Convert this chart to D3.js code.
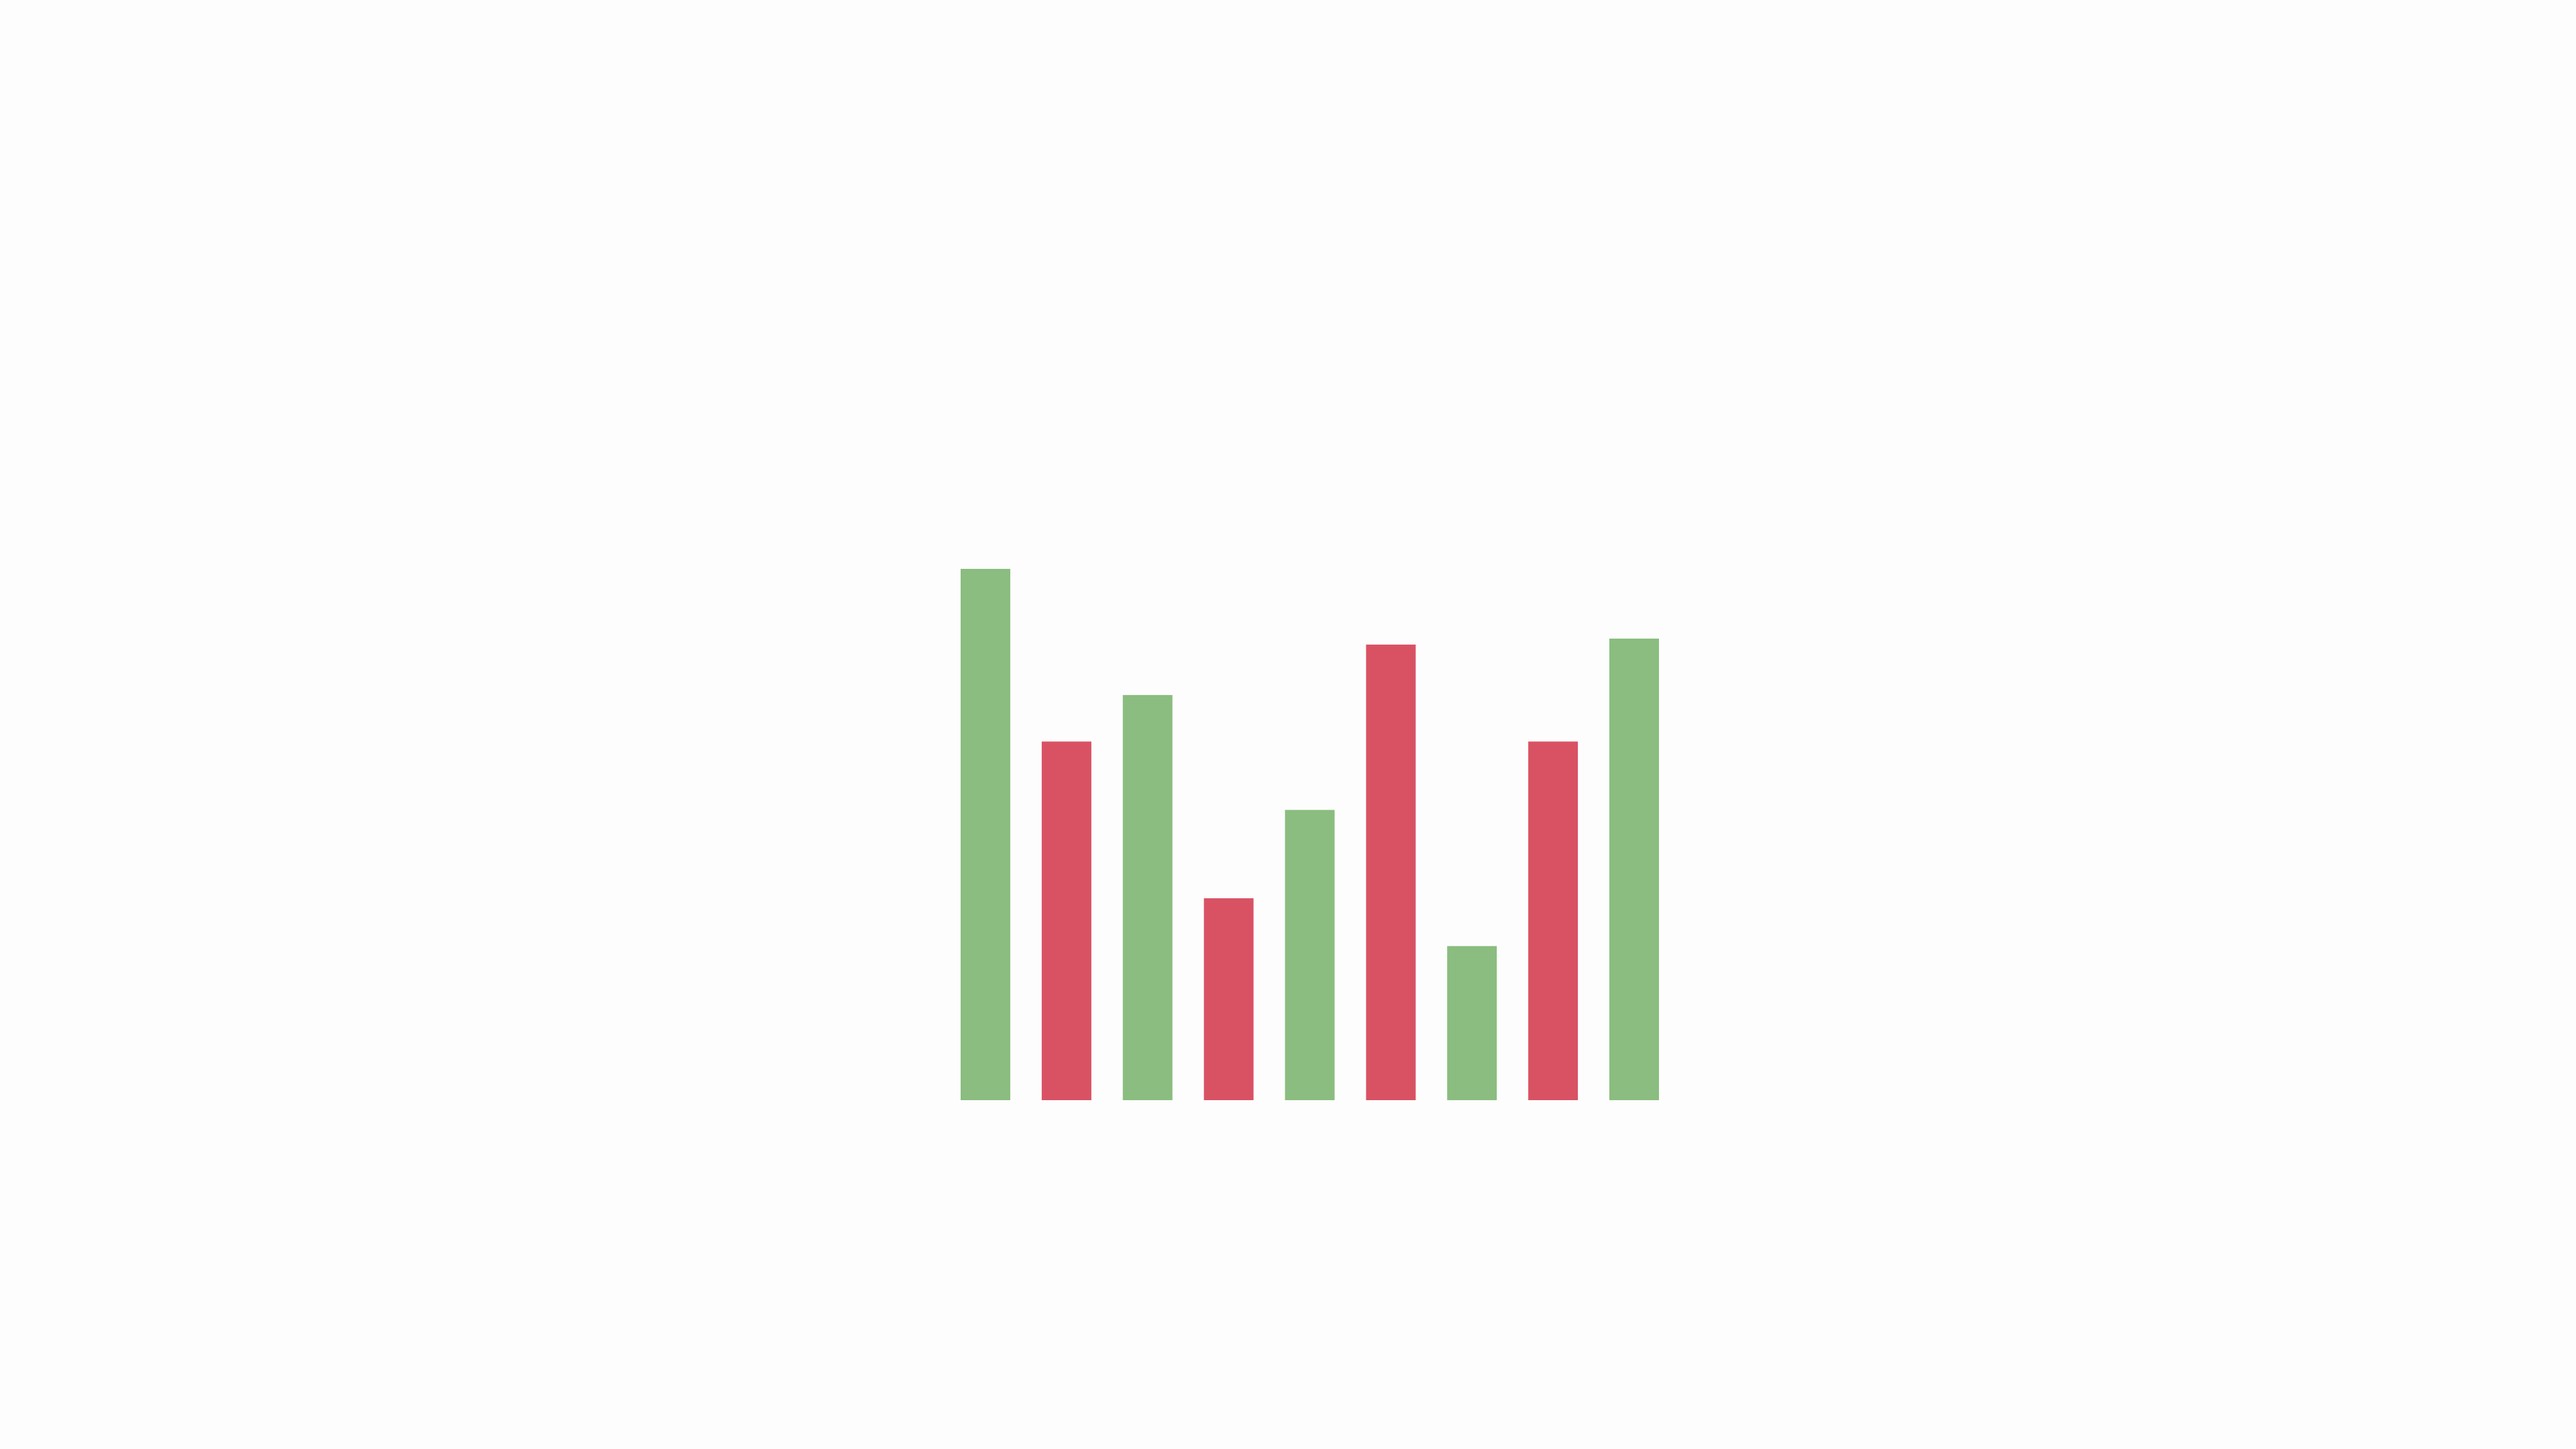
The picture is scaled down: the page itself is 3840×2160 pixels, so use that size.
<!DOCTYPE html>
<html>
<head>
<meta charset="utf-8">
<script src="https://cdn.jsdelivr.net/npm/d3@7"></script>
<style>
  html, body { margin: 0; padding: 0; background: #fdfdfd; }
  svg { display: block; }
</style>
</head>
<body>
<svg id="bars" width="3840" height="2160"></svg>
<script>
// bar values, left to right
const values = [80, 54, 61, 30.4, 43.7, 68.6, 23.2, 54, 69.5];
// which bars are drawn green (up) and which red (down)
const kinds = ['up', 'down', 'up', 'down', 'up', 'down', 'up', 'down', 'up'];

const colors = { up: '#8abd7f', down: '#d95264' };

const svg = d3.select('#bars');

const xScale = d3.scaleBand()
  .domain(d3.range(values.length))
  .range([1432, 2473])
  .paddingInner(0.388)
  .paddingOuter(0);

const yScale = d3.scaleLinear()
  .domain([0, 80])
  .range([1640, 848]);

svg.append('rect')
  .attr('width', 3840)
  .attr('height', 2160)
  .attr('fill', '#fdfdfd');

svg.selectAll('rect.bar')
  .data(values)
  .enter()
    .append('rect')
    .attr('class', 'bar')
    .attr('x', (d, i) => xScale(i))
    .attr('y', (d) => yScale(d))
    .attr('width', xScale.bandwidth())
    .attr('height', (d) => yScale(0) - yScale(d))
    .attr('fill', (d, i) => colors[kinds[i]]);
</script>
</body>
</html>
